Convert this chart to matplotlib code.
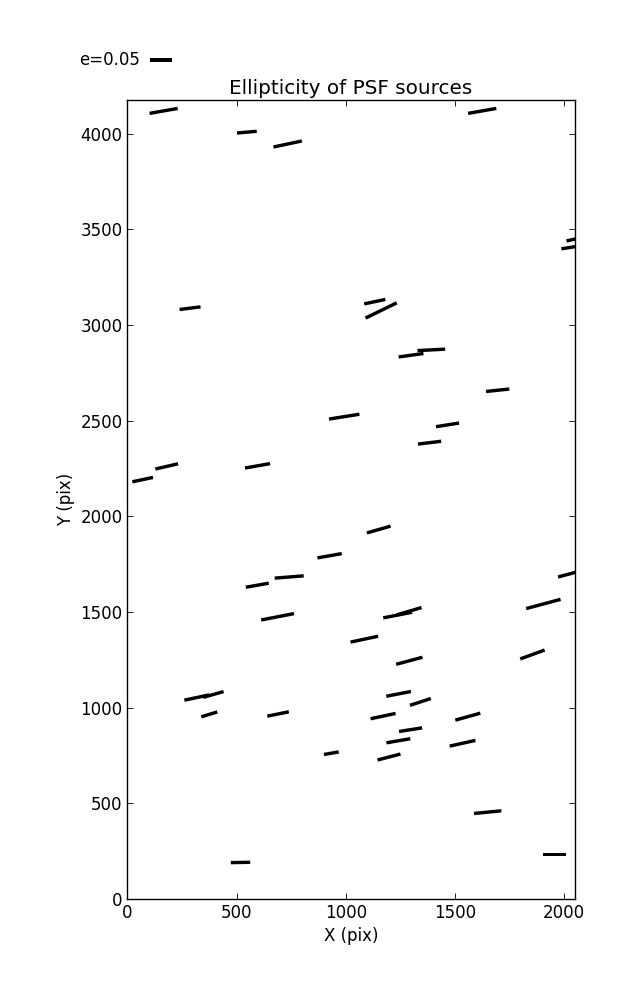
import numpy as np
import matplotlib
matplotlib.use('Agg')
import matplotlib.pyplot as plt

# star positions (pix), ellipticity and position angle (deg) of the PSF
x_pix = [166, 547, 734, 1625, 2060, 2042, 287, 1133, 1162, 1299, 1392, 1696,
         993, 1466, 1384, 70, 180, 596, 1151, 595, 741, 926, 2028, 688, 1905,
         1238, 1290, 1085, 1855, 1291, 318, 394, 1242, 1342, 375, 690, 1171,
         1559, 1297, 1241, 1535, 1198, 934, 1650, 518, 1957]
y_pix = [4119, 4008, 3946, 4119, 3452, 3408, 3088, 3122, 3076, 2842, 2870, 2659,
         2521, 2478, 2385, 2192, 2261, 2264, 1931, 1640, 1683, 1794, 1700, 1475, 1542,
         1484, 1504, 1358, 1278, 1245, 1053, 1069, 1072, 1030, 965, 967, 956,
         953, 885, 827, 814, 742, 762, 454, 191, 233]
ellip = [0.065, 0.045, 0.066, 0.065, 0.050, 0.055, 0.048, 0.049, 0.079, 0.057, 0.063, 0.053,
         0.070, 0.053, 0.053, 0.048, 0.053, 0.058, 0.056, 0.053, 0.066, 0.056, 0.057, 0.076, 0.081,
         0.067, 0.059, 0.064, 0.059, 0.062, 0.058, 0.048, 0.057, 0.050, 0.038, 0.050, 0.058,
         0.059, 0.053, 0.055, 0.060, 0.054, 0.034, 0.0625, 0.044, 0.052]
angle = [10, 5, 12, 10, 13, 9, 7, 12, 26, 8, 3, 6,
         9, 9, 7, 12, 13, 10, 16, 10, 4.5, 10, 15, 11, 15,
         11, 16.5, 12, 20, 15, 12, 16, 11, 18, 17, 11.5, 12,
         15.6, 9, 9.6, 12.5, 14.6, 10, 5.6, 1, 0]

e = np.array(ellip)
th = np.radians(angle)
u = e * np.cos(th)
v = e * np.sin(th)

plt.rcParams['font.size'] = 12
plt.rcParams['axes.linewidth'] = 1.0
plt.rcParams['xtick.direction'] = 'in'
plt.rcParams['ytick.direction'] = 'in'
plt.rcParams['xtick.top'] = True
plt.rcParams['ytick.right'] = True

fig = plt.figure(figsize=(6.37, 10), dpi=100)
ax = fig.add_axes([0.2, 0.101, 0.702, 0.799])

q = ax.quiver(x_pix, y_pix, u, v, pivot='middle', headwidth=0, headlength=0,
              headaxislength=0, units='dots', width=3.4, scale_units='inches',
              scale=0.05 / 0.22, color='k')
# key arrow starts at its tail when the label sits on the west side
ax.quiverkey(q, 150 / 637, 0.94, 0.05, 'e=0.05', labelpos='W', coordinates='figure')

ax.set_xlim(0, 2048)
ax.set_ylim(0, 4176)
ax.set_xticks([0, 500, 1000, 1500, 2000])
ax.set_yticks(range(0, 4001, 500))
ax.tick_params(length=4, width=0.6)
ax.set_xlabel('X (pix)')
ax.set_ylabel('Y (pix)')
ax.set_title('Ellipticity of PSF sources', fontsize=14.4, pad=4)

fig.savefig('out.png', dpi=100)
